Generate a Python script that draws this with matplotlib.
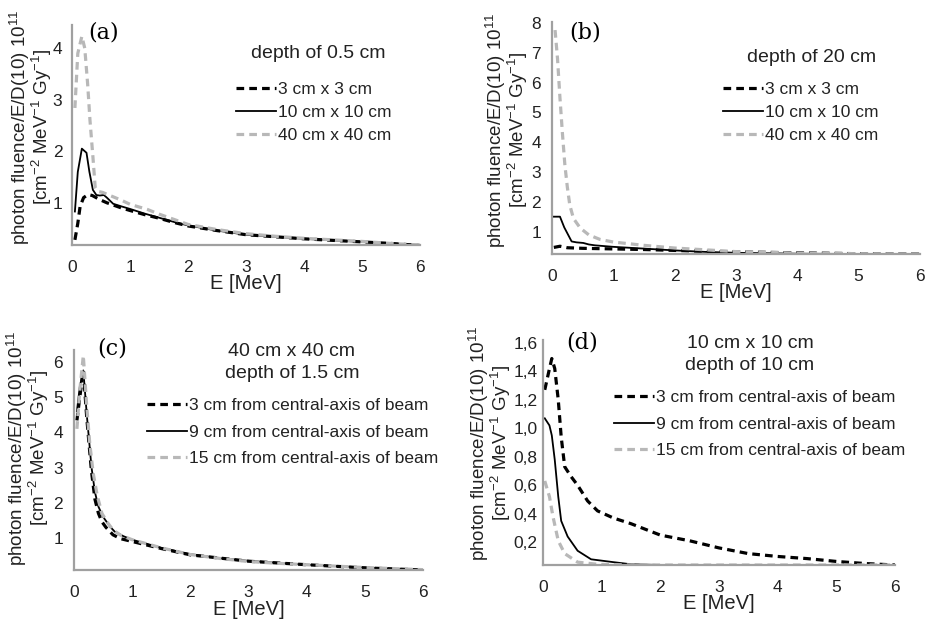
import numpy as np
import matplotlib
matplotlib.use('Agg')
import matplotlib.pyplot as plt

plt.rcParams['font.family'] = ['Liberation Sans', 'DejaVu Sans']
plt.rcParams['mathtext.default'] = 'regular'

# ---- data ----
# (a) depth of 0.5 cm
a3_x = [0.05, 0.1, 0.14, 0.2, 0.28, 0.35, 0.48, 0.6, 0.7, 0.85, 1.0, 1.25, 1.5, 1.75, 2.0, 2.5, 3.0, 3.5, 4.0, 4.5, 5.0, 5.5, 6.0]
a3_y = [0.28, 0.6, 0.93, 1.1, 1.16, 1.14, 1.06, 1.0, 0.96, 0.9, 0.85, 0.77, 0.7, 0.62, 0.55, 0.46, 0.38, 0.34, 0.3, 0.27, 0.24, 0.21, 0.17]
a10_x = [0.05, 0.1, 0.17, 0.25, 0.3, 0.36, 0.42, 0.48, 0.55, 0.6, 0.71, 0.85, 1.0, 1.25, 1.5, 1.75, 2.0, 2.5, 3.0, 3.5, 4.0, 4.5, 5.0, 5.5, 6.0]
a10_y = [0.83, 1.6, 2.05, 1.97, 1.6, 1.25, 1.15, 1.14, 1.15, 1.1, 0.98, 0.93, 0.88, 0.79, 0.71, 0.63, 0.56, 0.46, 0.38, 0.34, 0.3, 0.27, 0.24, 0.21, 0.18]
a40_x = [0.05, 0.1, 0.17, 0.22, 0.27, 0.31, 0.36, 0.4, 0.45, 0.53, 0.7, 0.85, 1.0, 1.3, 1.5, 2.0, 2.5, 3.0, 3.5, 4.0, 4.5, 5.0, 5.5, 6.0]
a40_y = [2.84, 3.9, 4.23, 4.0, 3.3, 2.6, 1.9, 1.3, 1.22, 1.2, 1.12, 1.05, 0.97, 0.87, 0.78, 0.58, 0.48, 0.4, 0.35, 0.31, 0.28, 0.25, 0.21, 0.18]

# (b) depth of 20 cm
b3_x = [0.03, 0.13, 0.25, 0.5, 1.0, 1.5, 2.0, 2.5, 3.0, 4.0, 5.0, 6.0]
b3_y = [0.48, 0.52, 0.47, 0.45, 0.43, 0.41, 0.38, 0.35, 0.33, 0.3, 0.27, 0.26]
b10_x = [0.03, 0.13, 0.2, 0.32, 0.4, 0.51, 0.6, 0.7, 1.0, 1.5, 2.0, 2.5, 3.0, 4.0, 5.0, 6.0]
b10_y = [1.51, 1.51, 1.15, 0.68, 0.65, 0.63, 0.58, 0.55, 0.5, 0.44, 0.38, 0.33, 0.3, 0.27, 0.26, 0.26]
b40_x = [0.05, 0.09, 0.13, 0.17, 0.21, 0.25, 0.29, 0.35, 0.46, 0.6, 0.78, 1.0, 1.5, 2.0, 2.5, 3.0, 4.0, 5.0, 6.0]
b40_y = [7.76, 6.8, 5.48, 4.3, 3.24, 2.5, 1.9, 1.45, 1.13, 0.9, 0.75, 0.66, 0.55, 0.46, 0.4, 0.34, 0.29, 0.27, 0.26]

# (c) 40 cm x 40 cm, depth of 1.5 cm
c3_x = [0.05, 0.1, 0.16, 0.22, 0.3, 0.36, 0.42, 0.48, 0.55, 0.67, 0.8, 1.0, 1.5, 2.0, 3.0, 4.0, 5.0, 6.0]
c3_y = [4.34, 5.0, 5.76, 4.4, 2.9, 2.1, 1.7, 1.46, 1.3, 1.09, 0.98, 0.9, 0.7, 0.52, 0.34, 0.24, 0.15, 0.09]
c9_x = [0.05, 0.1, 0.16, 0.22, 0.3, 0.36, 0.42, 0.5, 0.62, 0.7, 0.85, 1.0, 1.5, 2.0, 2.5, 3.0, 4.0, 5.0, 6.0]
c9_y = [4.6, 5.3, 5.76, 4.5, 3.02, 2.3, 1.89, 1.6, 1.32, 1.18, 1.05, 0.95, 0.72, 0.54, 0.43, 0.35, 0.24, 0.16, 0.09]
c15_x = [0.05, 0.1, 0.16, 0.22, 0.27, 0.33, 0.4, 0.48, 0.57, 0.67, 0.8, 1.0, 1.5, 2.0, 2.5, 3.0, 3.5, 4.0, 5.0, 6.0]
c15_y = [4.1, 5.2, 6.18, 4.72, 3.7, 2.84, 2.2, 1.7, 1.45, 1.23, 1.08, 0.95, 0.72, 0.53, 0.42, 0.33, 0.28, 0.24, 0.16, 0.1]

# (d) 10 cm x 10 cm, depth of 10 cm
d3_x = [0.03, 0.1, 0.15, 0.2, 0.26, 0.31, 0.37, 0.48, 0.59, 0.76, 0.93, 1.2, 1.5, 2.0, 2.5, 3.0, 3.5, 4.0, 4.5, 5.0, 5.5, 6.0]
d3_y = [1.27, 1.4, 1.49, 1.42, 1.2, 0.94, 0.73, 0.66, 0.6, 0.49, 0.42, 0.37, 0.33, 0.25, 0.21, 0.16, 0.12, 0.1, 0.085, 0.065, 0.05, 0.04]
d9_x = [0.03, 0.11, 0.15, 0.2, 0.26, 0.31, 0.42, 0.59, 0.82, 1.2, 1.5, 2.0, 3.0, 4.0, 5.0, 6.0]
d9_y = [1.07, 1.02, 0.95, 0.78, 0.52, 0.35, 0.24, 0.14, 0.08, 0.06, 0.045, 0.04, 0.04, 0.04, 0.04, 0.04]
d15_x = [0.03, 0.11, 0.17, 0.26, 0.37, 0.59, 0.93, 1.5, 2.0, 3.0, 4.0, 5.0, 6.0]
d15_y = [0.63, 0.52, 0.38, 0.21, 0.12, 0.06, 0.045, 0.04, 0.04, 0.04, 0.04, 0.04, 0.04]

field_labels = ['3 cm x 3 cm', '10 cm x 10 cm', '40 cm x 40 cm']
axis_labels = ['3 cm from central-axis of beam', '9 cm from central-axis of beam',
               '15 cm from central-axis of beam']
ylab1 = 'photon fluence/E/D(10) 10$^{11}$'
ylab2 = '[cm$^{-2}$ MeV$^{-1}$ Gy$^{-1}$]'

W, H = 930, 620
GRAY = '#b8b8b8'
SPINE = '#a0a0a0'
TXT = '#222222'
NARROW = ['Liberation Sans Narrow', 'Liberation Sans', 'DejaVu Sans']

fig = plt.figure(figsize=(9.3, 6.2), dpi=100)


def box(l, t, r, b):
    return [l / W, 1 - b / H, (r - l) / W, (b - t) / H]


def fp(x, y):
    return x / W, 1 - y / H


def style(ax, ylim, yticks, ypad, xlpad=-1):
    ax.set_xlim(0, 6)
    ax.set_ylim(*ylim)
    ax.set_xticks(range(7))
    ax.set_yticks(yticks)
    for s in ['top', 'right']:
        ax.spines[s].set_visible(False)
    for s in ['left', 'bottom']:
        ax.spines[s].set_color(SPINE)
        ax.spines[s].set_linewidth(1.6)
    ax.tick_params(length=0, labelsize=12.5, colors=TXT)
    ax.tick_params(axis='x', pad=11)
    ax.tick_params(axis='y', pad=ypad)
    ax.set_xlabel('E [MeV]', fontsize=14.5, labelpad=xlpad, color=TXT)


def draw(ax, xs, ys, labels):
    ax.plot(xs[0], ys[0], color='black', lw=2.3, dashes=(2.4, 1.6), label=labels[0])
    ax.plot(xs[1], ys[1], color='black', lw=1.3, label=labels[1])
    ax.plot(xs[2], ys[2], color=GRAY, lw=2.3, dashes=(2.4, 1.6), label=labels[2])


def legend(ax, x, y, spacing):
    leg = ax.legend(loc='upper left', bbox_to_anchor=fp(x, y), bbox_transform=fig.transFigure,
                    frameon=False, prop={'family': NARROW, 'size': 12.5}, handlelength=2.3,
                    handletextpad=0.1, labelspacing=spacing, borderpad=0, borderaxespad=0)
    for t in leg.get_texts():
        t.set_color(TXT)


def ylabel(x1, x2, y):
    fig.text(*fp(x1, y), ylab1, rotation=90, fontsize=13.5, ha='center', va='center', color=TXT)
    fig.text(*fp(x2, y), ylab2, rotation=90, fontsize=13.5, ha='center', va='center', color=TXT)


def title(x, y, s):
    fig.text(*fp(x, y), s, fontsize=14, ha='center', va='center', color=TXT)


def tag(x, y, s):
    fig.text(*fp(x, y), s, family='DejaVu Serif', fontsize=16, va='center')


# (a)
ax = fig.add_axes(box(72, 25, 420, 245))
draw(ax, [a3_x, a10_x, a40_x], [a3_y, a10_y, a40_y], field_labels)
style(ax, (0.18, 4.45), [1, 2, 3, 4], 7)
ylabel(20, 42, 127)
title(318, 53, 'depth of 0.5 cm')
legend(ax, 236, 82, 0.45)
tag(88, 33, '(a)')

# (b)
ax = fig.add_axes(box(552, 22, 920, 254))
draw(ax, [b3_x, b10_x, b40_x], [b3_y, b10_y, b40_y], field_labels)
style(ax, (0.26, 8.03), [1, 2, 3, 4, 5, 6, 7, 8], 8)
ylabel(496, 518, 130)
title(812, 57, 'depth of 20 cm')
legend(ax, 723, 82, 0.45)
tag(569, 33, '(b)')

# (c)
ax = fig.add_axes(box(74, 350, 423, 570))
draw(ax, [c3_x, c9_x, c15_x], [c3_y, c9_y, c15_y], axis_labels)
style(ax, (0.09, 6.34), [1, 2, 3, 4, 5, 6], 8, xlpad=0)
ylabel(17, 39, 448)
title(292, 352, '40 cm x 40 cm')
title(292, 373, 'depth of 1.5 cm')
tag(97, 348, '(c)')
legend(ax, 147, 398, 0.66)

# (d)
ax = fig.add_axes(box(543, 340, 895, 565))
draw(ax, [d3_x, d9_x, d15_x], [d3_y, d9_y, d15_y], axis_labels)
dt = [0.2, 0.4, 0.6, 0.8, 1.0, 1.2, 1.4, 1.6]
style(ax, (0.04, 1.62), dt, 4)
ax.set_yticklabels([('%.1f' % v).replace('.', ',') for v in dt])
ylabel(479, 501, 443)
title(750, 343, '10 cm x 10 cm')
title(750, 365, 'depth of 10 cm')
tag(566, 343, '(d)')
legend(ax, 614, 390, 0.66)

fig.savefig('out.png', dpi=100)
